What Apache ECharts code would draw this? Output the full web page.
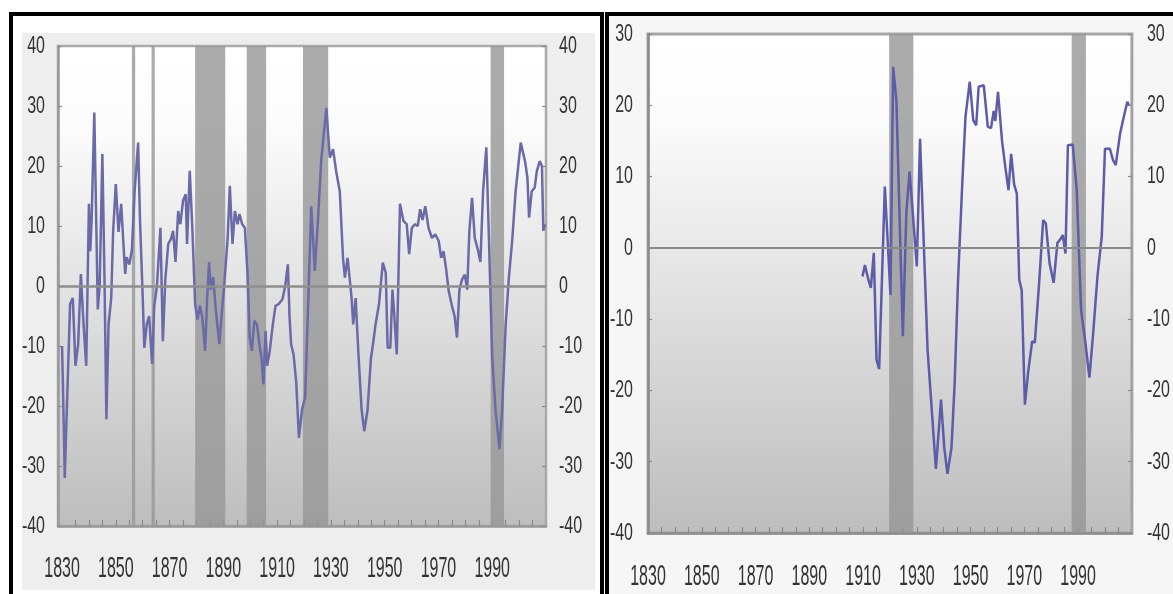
<!DOCTYPE html>
<html><head><meta charset="utf-8">
<script src="https://cdn.jsdelivr.net/npm/echarts@6/dist/echarts.min.js"></script>
<style>
html,body{margin:0;padding:0;background:#fff;}
#wrap{position:relative;width:1173px;height:594px;overflow:hidden;}
.box{position:absolute;box-sizing:border-box;}
#chart{position:absolute;left:0;top:0;width:1173px;height:594px;}
</style></head>
<body><div id="wrap">
<div class="box" style="left:22px;top:33px;width:573px;height:557px;background:#eeeeee"></div>
<div class="box" style="left:609px;top:16px;width:564px;height:578px;background:#f6f6f6"></div>
<div class="box" style="left:9px;top:12px;width:595px;height:620px;border:4px solid #000"></div>
<div class="box" style="left:605px;top:12px;width:620px;height:620px;border:4px solid #000"></div>
<div id="chart"></div>
</div>
<script>
// ---- data ----
const leftPoints = [[1830,-10],[1830.5,-20],[1831,-32],[1832,-17.5],[1833,-3],[1834,-2],[1835,-13.3],[1836,-9.7],[1837,2],[1838,-6.4],[1839,-13.3],[1840,13.7],[1840.5,5.8],[1841,10.8],[1842,28.9],[1843.3,-3.9],[1844,0],[1845,22],[1845.8,1],[1846.5,-22.2],[1847.3,-6.4],[1848.3,-2],[1849,9],[1850,17],[1851,9],[1852,13.7],[1853,5.7],[1853.5,2],[1854,4.8],[1855,3.6],[1856,6],[1857,15.8],[1858.3,23.9],[1859,11],[1860,-1.8],[1860.6,-10.3],[1861.5,-6.4],[1862.4,-5],[1863.5,-13],[1864.3,-3.3],[1865.3,0],[1866.6,9.7],[1867.5,-9.2],[1868.4,1],[1869.5,7],[1870.5,7.8],[1871.3,9.2],[1872.2,4],[1873.2,12.5],[1874,10.3],[1875,14.2],[1876,15.3],[1876.5,7],[1877.5,19.2],[1878.5,9.2],[1879.5,-3],[1880.4,-5.6],[1881.3,-3.3],[1882.2,-5.3],[1883.2,-10.8],[1884,-1.8],[1884.7,4],[1885.3,-0.6],[1886.2,1.5],[1887.2,-4],[1888.5,-9.7],[1889.5,-4],[1890.3,0],[1891.6,8],[1892.4,16.7],[1893.4,7],[1894.3,12.5],[1895.3,10.3],[1896,12],[1897,10.3],[1898,9.7],[1899,2],[1899.8,-8.6],[1900.6,-10.8],[1901.5,-5.8],[1902.5,-6.4],[1903.4,-9.7],[1904.2,-12],[1904.9,-16.4],[1905.7,-7.5],[1906.3,-13.3],[1907.2,-11],[1908.4,-6.4],[1909.4,-3.3],[1910.6,-3],[1912,-2.2],[1913,0],[1914,3.6],[1914.6,-5],[1915.2,-9.7],[1916.1,-11.4],[1917.1,-16],[1918.1,-25.3],[1919.3,-20.5],[1920.4,-18.6],[1921.5,-3.6],[1922.7,13.3],[1924,2.5],[1925.2,11],[1926.4,21],[1928.3,29.7],[1929.6,21.4],[1930.8,22.8],[1932,19],[1933.3,15.8],[1934.5,4.7],[1935.2,1.4],[1936.2,4.7],[1937.7,-2],[1938.3,-6.4],[1939.2,-2],[1940.2,-11],[1941.4,-20.5],[1942.4,-24.2],[1943.6,-20.8],[1944.9,-12],[1945.8,-9.2],[1946.6,-6.4],[1947.9,-3],[1949.3,3.9],[1950.4,2.2],[1951.1,-10.3],[1952.1,-10.3],[1952.9,-0.6],[1953.6,-5],[1954.5,-11.4],[1955.7,13.7],[1957,10.8],[1958.2,10.3],[1959.1,5.3],[1960.1,9.7],[1961.3,10.3],[1962.3,10],[1963.2,12.8],[1964.1,11],[1965.1,13.3],[1966.3,9.7],[1967.6,8],[1968.8,8.6],[1970.1,7.5],[1971,4.7],[1971.9,5.8],[1972.8,3],[1973.8,-0.8],[1975,-3.3],[1976,-5],[1976.9,-8.6],[1977.8,-0.6],[1978.8,1.1],[1979.8,1.9],[1980.7,-0.6],[1981.5,9.2],[1982.5,14.7],[1983.5,8],[1984.8,5.8],[1985.6,4],[1986.6,15.8],[1987.8,23.1],[1988.8,7.5],[1990,-12],[1991.2,-20.5],[1992.7,-27.2],[1993.7,-20.5],[1995,-6.4],[1996.2,1.4],[1997.5,8],[1998.7,15.8],[2000.6,23.9],[2002.2,20.8],[2003.1,18],[2003.7,11.4],[2004.7,15.8],[2005.8,16.4],[2006.6,19.2],[2007.7,20.8],[2008.5,20],[2009,9.2],[2009.6,10.3]];

const rightPoints = [[1909.8,-4],[1910.7,-2.4],[1912,-4.5],[1912.9,-5.6],[1914,-0.7],[1915,-15.7],[1916,-17],[1918.1,8.6],[1920.2,-6.6],[1921.2,25.4],[1922.4,20.7],[1924.8,-12.4],[1926.1,4.9],[1927.3,10.7],[1928.5,4.9],[1930,-2.6],[1931.2,15.3],[1934,-14.3],[1937.1,-31],[1939,-21.3],[1940.2,-28],[1941.4,-31.7],[1942.9,-28],[1944.1,-18.8],[1945.3,-4.9],[1946.9,9],[1948.1,18.4],[1949.7,23.3],[1951,17.9],[1952.1,17.2],[1953,22.6],[1954.9,22.8],[1956.4,17],[1957.6,16.8],[1958.6,19.2],[1959.2,17.8],[1960.2,21.9],[1961.7,15],[1962.9,11.4],[1964.1,8.1],[1965.1,13.2],[1966.2,8.9],[1967.2,7.6],[1968.1,-4.5],[1969,-5.9],[1970.2,-22],[1971.4,-17.5],[1972.9,-13.1],[1973.9,-13.3],[1975.5,-4.9],[1977,3.9],[1978,3.4],[1979.4,-2.2],[1980.9,-4.9],[1982.3,0.7],[1983.4,1.2],[1984.3,1.8],[1985.3,-0.8],[1986.2,14.4],[1988,14.5],[1989.5,8],[1991.1,-8.7],[1992.7,-13.3],[1994.2,-18.2],[1995.6,-12],[1997.2,-4],[1998.8,1.6],[2000,13.9],[2001.8,13.9],[2003,12.3],[2004,11.6],[2005.6,16],[2007,18.4],[2008.3,20.5],[2008.9,20]];

const leftBands = [[1856.0,1857.2],[1863.3,1864.5],[1879.5,1890.7],[1898.7,1905.9],[1919.6,1929.0],[1989.4,1994.4]];
const rightBands = [[1919.7,1928.7],[1987.6,1992.9]];

const xLabelYears = [1830,1850,1870,1890,1910,1930,1950,1970,1990];
const xTickYears = [1835,1840,1845,1850,1855,1860,1865,1870,1875,1880,1885,1890,1895,1900,1905,1910,1915,1920,1925,1930,1935,1940,1945,1950,1955,1960,1965,1970,1975,1980,1985,1990,1995,2000,2005];

// ---- chart ----
const FONT = "'Liberation Sans','Arial',sans-serif";
const chart = echarts.init(document.getElementById('chart'), null, {renderer:'canvas'});
const grad = () => new echarts.graphic.LinearGradient(0,0,0,1,[
  {offset:0,color:'#ffffff'},{offset:0.18,color:'#fbfbfb'},{offset:1,color:'#bdbdbd'}]);
const plain = v => String(v);

function xAxisCfg(grid, min, max, color, margin){
  return {type:'value', gridIndex:grid, min:min, max:max,
    axisLine:{show:true, onZero:false, lineStyle:{color:color, width:2.5}},
    axisTick:{show:true, inside:true, length:6, customValues:xTickYears, lineStyle:{color:'#8a8a8a', width:1.2}},
    axisLabel:{show:true, customValues:xLabelYears, formatter:plain, margin:margin, fontSize:16, fontFamily:FONT, color:'#333'},
    splitLine:{show:false}};
}
function yAxisCfg(grid, pos, min, max, margin, lineColor, lineWidth){
  return {type:'value', gridIndex:grid, position:pos, min:min, max:max, interval:10,
    axisLine:{show:true, onZero:false, lineStyle:{color:lineColor, width:lineWidth}},
    axisTick:{show:true, inside:true, length:4, lineStyle:{color:'#8a8a8a', width:1.2}},
    axisLabel:{show:true, formatter:plain, margin:margin, fontSize:16, fontFamily:FONT, color:'#333'},
    splitLine:{show:false}};
}
function bandData(b){ return b.map(r => [{xAxis:r[0]},{xAxis:r[1]}]); }

chart.setOption({
  animation:false,
  backgroundColor:'transparent',
  grid:[
    {left:58, top:46, width:488, height:480, show:true, backgroundColor:grad(), borderColor:'#ababab', borderWidth:2.5},
    {left:648, top:34, width:489, height:499, show:true, backgroundColor:grad(), borderColor:'#a6a6a6', borderWidth:3}
  ],
  xAxis:[ xAxisCfg(0, 1828.5, 2010, '#9a9a9a', 27), xAxisCfg(1, 1830, 2010, '#8c8c8c', 28) ],
  yAxis:[
    yAxisCfg(0,'left',-40,40,13,'#9a9a9a',2.5),
    yAxisCfg(0,'right',-40,40,13,'#a8a8a8',1.5),
    yAxisCfg(1,'left',-40,30,15,'#8c8c8c',2.5),
    yAxisCfg(1,'right',-40,30,15,'#a0a0a0',1.5)
  ],
  series:[
    {type:'line', xAxisIndex:0, yAxisIndex:0, data:leftPoints, showSymbol:false, symbol:'none',
     lineStyle:{color:'#6a6aa8', width:2.5}, z:3,
     markArea:{silent:true, itemStyle:{color:'rgba(150,150,150,0.8)'}, data:bandData(leftBands)},
     markLine:{silent:true, symbol:'none', label:{show:false}, lineStyle:{color:'#8e8e8e', width:2.5, type:'solid'}, data:[{yAxis:0}]}},
    {type:'line', xAxisIndex:1, yAxisIndex:2, data:rightPoints, showSymbol:false, symbol:'none',
     lineStyle:{color:'#5c5ca8', width:2.5}, z:3,
     markArea:{silent:true, itemStyle:{color:'rgba(150,150,150,0.8)'}, data:bandData(rightBands)},
     markLine:{silent:true, symbol:'none', label:{show:false}, lineStyle:{color:'#8a8a8a', width:2, type:'solid'}, data:[{yAxis:0}]}}
  ]
});

// The reference's tick labels are drawn tall and narrow: stretch the axis label texts vertically.
(function stretchLabels(){
  const zr = chart.getZr();
  zr.storage.getRoots().forEach(root => {
    if (!root.traverse) return;
    root.traverse(el => {
      if (el.type !== 'text' || !el.style || el.style.text == null) return;
      const t = String(el.style.text);
      el.scaleY = (t.length === 4) ? 1.9 : 1.55;
      el.markRedraw();
    });
  });
  zr.refreshImmediately();
})();
</script>
</body></html>
